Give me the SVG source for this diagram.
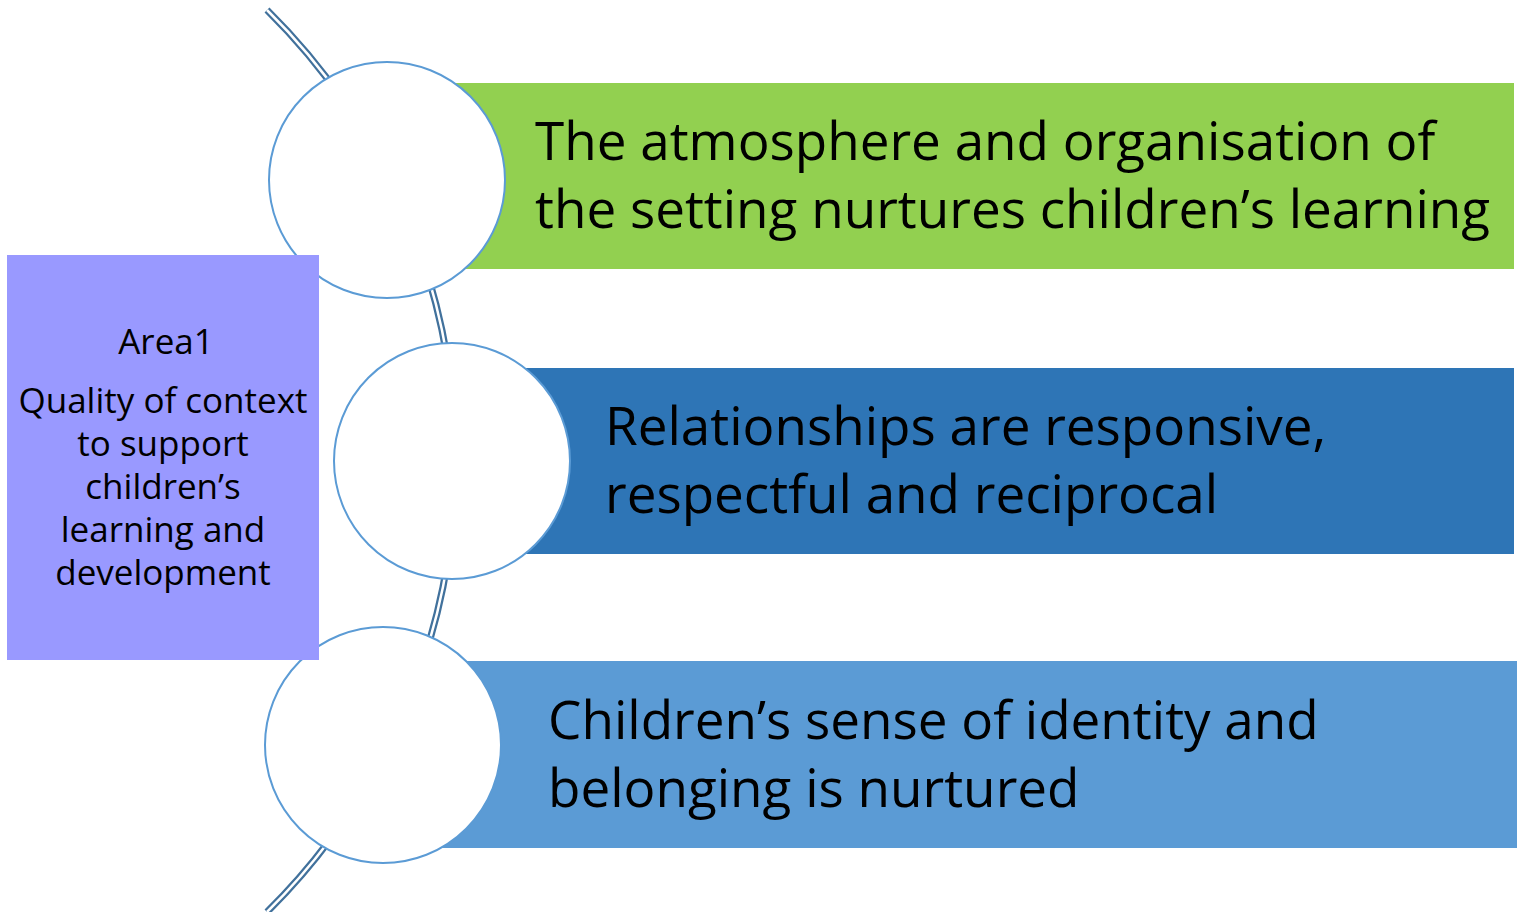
<svg xmlns="http://www.w3.org/2000/svg" width="1517" height="912" viewBox="0 0 1517 912">
<style>
.arc-o{fill:none;stroke:#41719C;stroke-width:7}
.arc-i{fill:none;stroke:#ffffff;stroke-width:2.5}
.circ{fill:#ffffff;stroke:#5B9BD5;stroke-width:2}
.big{font-family:"Open Sans",sans-serif;font-size:53px;fill:#000}
.small{font-family:"Open Sans",sans-serif;font-size:35px;fill:#000;text-anchor:middle}
</style>
<rect width="1517" height="912" fill="#ffffff"/>
<g id="connectors">
<path class="arc-o" d="M267,10 A633.8,633.8 0 0 1 267,912"/>
<path class="arc-i" d="M267,10 A633.8,633.8 0 0 1 267,912"/>
</g>
<g id="bar1"><rect x="440" y="83" width="1074" height="186" fill="#92D050"/>
<text class="big" x="535" y="160">The atmosphere and organisation of</text>
<text class="big" x="535" y="228">the setting nurtures children’s learning</text></g>
<g id="bar2"><rect x="500" y="368" width="1014" height="186" fill="#2E75B6"/>
<text class="big" x="605" y="445">Relationships are responsive,</text>
<text class="big" x="605" y="513">respectful and reciprocal</text></g>
<g id="bar3"><rect x="440" y="661" width="1077" height="187" fill="#5B9BD5"/>
<text class="big" x="548" y="739">Children’s sense of identity and</text>
<text class="big" x="548" y="807">belonging is nurtured</text></g>
<g id="circle1"><circle class="circ" cx="387" cy="180" r="118"/></g>
<g id="circle2"><circle class="circ" cx="452" cy="461" r="118"/></g>
<g id="circle3"><circle class="circ" cx="383" cy="745" r="118"/></g>
<g id="area1"><rect x="7" y="255" width="312" height="405" fill="#9999FF"/>
<text class="small" x="166" y="354">Area1</text>
<text class="small" x="163" y="413">Quality of context</text>
<text class="small" x="163" y="456">to support</text>
<text class="small" x="163" y="499">children’s</text>
<text class="small" x="163" y="542">learning and</text>
<text class="small" x="163" y="585">development</text></g>
</svg>
